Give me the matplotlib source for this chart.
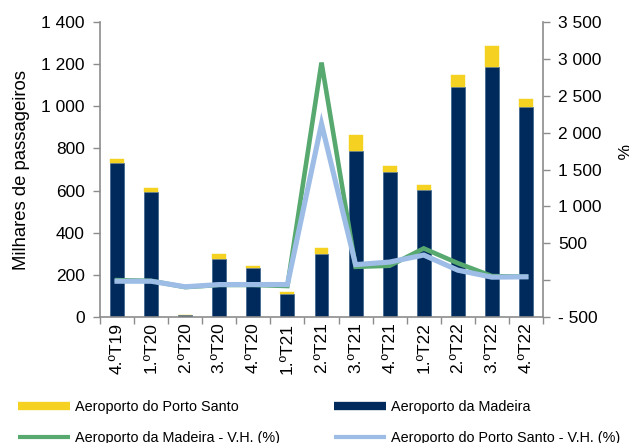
import matplotlib
matplotlib.use("Agg")
import matplotlib.pyplot as plt
from matplotlib.lines import Line2D
from matplotlib.ticker import FixedLocator, FuncFormatter

plt.rcParams['font.family'] = ['Liberation Sans', 'DejaVu Sans']

categories = ["4.ºT19", "1.ºT20", "2.ºT20", "3.ºT20", "4.ºT20", "1.ºT21", "2.ºT21",
              "3.ºT21", "4.ºT21", "1.ºT22", "2.ºT22", "3.ºT22", "4.ºT22"]
madeira = [731, 593, 8, 277, 234, 111, 301, 789, 690, 601, 1090, 1187, 995]
porto_santo = [20, 19, 1, 23, 8, 7, 25, 75, 27, 24, 57, 101, 38]
madeira_vh = [0, -10, -95, -65, -65, -80, 2950, 180, 195, 430, 230, 55, 45]
porto_santo_vh = [-15, -15, -90, -60, -60, -60, 2120, 210, 245, 340, 135, 40, 45]

navy = "#002A5C"
yellow = "#F5D122"
green = "#57A96F"
blue = "#9DBDE6"
grey = "#8C8C8C"
FS = 12.5

fig = plt.figure(figsize=(6.29, 4.43), dpi=100)
ax = fig.add_axes([100/629, 1-317/443, 443/629, 295/443])
ax2 = ax.twinx()

x = list(range(len(categories)))
w = 0.41
ax.bar(x, madeira, width=w, color=navy, edgecolor="#3a5f8a", linewidth=0.5, zorder=2,
       label="Aeroporto da Madeira")
ax.bar(x, porto_santo, width=w, bottom=madeira, color=yellow, edgecolor=yellow,
       linewidth=0.3, zorder=2, label="Aeroporto do Porto Santo")

ax2.plot(x, madeira_vh, color=green, lw=3.3, solid_joinstyle='miter', zorder=3)
ax2.plot(x, porto_santo_vh, color=blue, lw=3.7, solid_joinstyle='miter', zorder=4)

ax.set_xlim(-0.5, len(categories) - 0.5)
ax.set_ylim(0, 1400)
ax2.set_ylim(-500, 3500)

ax.set_yticks(range(0, 1401, 200))
ax.yaxis.set_major_formatter(FuncFormatter(lambda v, p: f"{int(v):,}".replace(",", " ")))
ax2.set_yticks(range(-500, 3501, 500))

def rfmt(v, p):
    v = int(v)
    if v == 0:
        return ""
    if v < 0:
        return "- " + f"{-v:,}".replace(",", " ")
    return f"{v:,}".replace(",", " ")

ax2.yaxis.set_major_formatter(FuncFormatter(rfmt))

ax.set_xticks(x)
ax.set_xticklabels(categories, rotation=90, fontsize=FS)
ax.xaxis.set_minor_locator(FixedLocator([i - 0.5 for i in range(len(categories) + 1)]))
ax.tick_params(axis='x', which='major', length=0, pad=4)
ax.tick_params(axis='x', which='minor', length=5, color=grey, width=1, direction='out')

ax.tick_params(axis='y', labelsize=FS, length=5, color=grey, width=1, direction='out', pad=6)
ax2.tick_params(axis='y', labelsize=FS, length=5, color=grey, width=1, direction='out', pad=6)

for a in (ax, ax2):
    a.spines['top'].set_visible(False)
    for s in ('left', 'right', 'bottom'):
        a.spines[s].set_color(grey)
        a.spines[s].set_linewidth(1.2)
ax.spines['right'].set_visible(False)
ax2.spines['left'].set_visible(False)
ax2.spines['bottom'].set_visible(False)

fig.text(22/629, 1-170/443, "Milhares de passageiros", rotation=90, fontsize=13.3,
         ha='center', va='center')
fig.text(621/629, 1-152/443, "%", rotation=270, fontsize=FS, ha='center', va='center')

handles = [
    Line2D([0], [0], color=yellow, lw=6, solid_capstyle='butt'),
    Line2D([0], [0], color=green, lw=3, solid_capstyle='butt'),
    Line2D([0], [0], color=navy, lw=6, solid_capstyle='butt'),
    Line2D([0], [0], color=blue, lw=3, solid_capstyle='butt'),
]
labels = ["Aeroporto do Porto Santo", "Aeroporto da Madeira - V.H. (%)",
          "Aeroporto da Madeira", "Aeroporto do Porto Santo - V.H. (%)"]
fig.legend(handles, labels, ncol=2, loc='upper left', bbox_to_anchor=(18/629, 1-400/443),
           frameon=False, fontsize=10.4, handlelength=3.6, handletextpad=0.35,
           columnspacing=3.7, labelspacing=1.15, borderaxespad=0, borderpad=0)

fig.savefig("out.png", dpi=100)
